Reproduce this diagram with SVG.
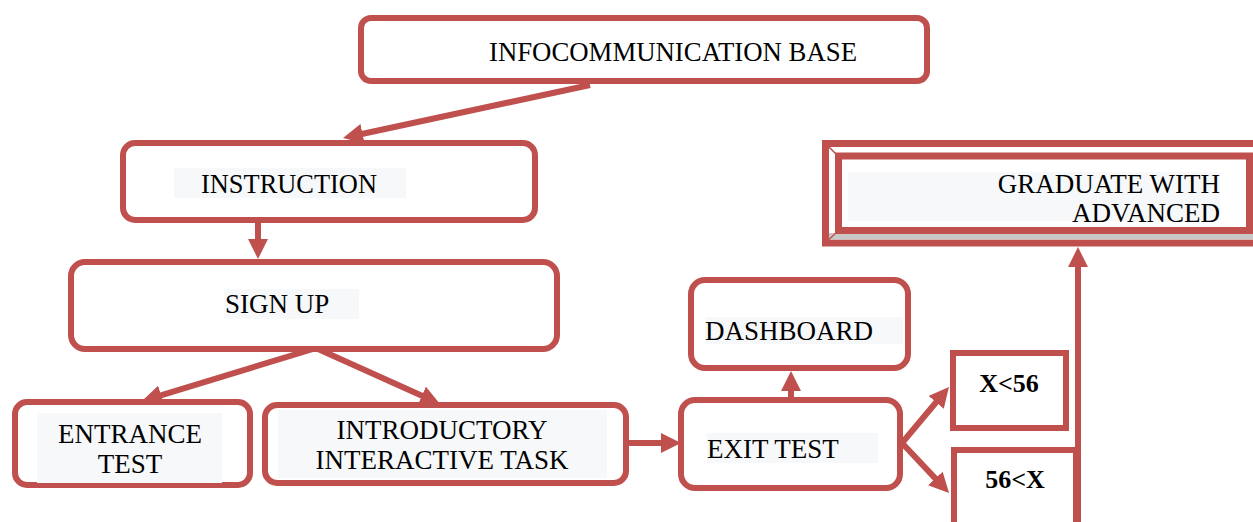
<svg xmlns="http://www.w3.org/2000/svg" width="1253" height="522" viewBox="0 0 1253 522">
<style>
.box{fill:#fff;stroke:#C0504D;stroke-width:6}
.sq{fill:#fff;stroke:#C0504D;stroke-width:6}
.bg{fill:#F7F8FA}
.t{font-family:"Liberation Serif","Times New Roman",serif;font-size:27px;fill:#000}
.b{font-weight:bold;font-size:26px}
.c{stroke:#C0504D;stroke-width:6;fill:none;marker-end:url(#ah)}
.bev{stroke:#C0504D;stroke-width:1.5;fill:none}
</style>
<defs>
<marker id="ah" viewBox="0 0 20 20" markerWidth="20" markerHeight="20" markerUnits="userSpaceOnUse" refX="2" refY="10" orient="auto">
<path d="M0,0 L20,10 L0,20 z" fill="#C0504D"/>
</marker>
</defs>
<rect width="1253" height="522" fill="#fff"/>
<g id="infocomm">
<rect class="box" x="361" y="18" width="566" height="63" rx="10"/>
<text class="t" x="489" y="61" textLength="368" lengthAdjust="spacingAndGlyphs">INFOCOMMUNICATION BASE</text>
</g>
<g id="instruction">
<rect class="box" x="123" y="143" width="412" height="77" rx="12"/>
<rect class="bg" x="174" y="168" width="232" height="30"/>
<text class="t" x="201" y="193" textLength="176" lengthAdjust="spacingAndGlyphs">INSTRUCTION</text>
</g>
<g id="signup">
<rect class="box" x="71" y="262" width="486" height="87" rx="14"/>
<rect class="bg" x="224" y="289" width="135" height="30"/>
<text class="t" x="225" y="313">SIGN UP</text>
</g>
<g id="entrance">
<rect class="box" x="15" y="402" width="235" height="83" rx="12"/>
<rect class="bg" x="37" y="413" width="185" height="70"/>
<text class="t" x="130" y="443" text-anchor="middle">ENTRANCE</text>
<text class="t" x="130" y="473" text-anchor="middle">TEST</text>
</g>
<g id="introductory">
<rect class="box" x="265" y="405" width="361" height="78" rx="12"/>
<rect class="bg" x="278" y="410" width="329" height="68"/>
<text class="t" x="442" y="439" text-anchor="middle">INTRODUCTORY</text>
<text class="t" x="442" y="469" text-anchor="middle">INTERACTIVE TASK</text>
</g>
<g id="exittest">
<rect class="box" x="681" y="400" width="219" height="88" rx="14"/>
<rect class="bg" x="707" y="433" width="171" height="30"/>
<text class="t" x="707" y="458">EXIT TEST</text>
</g>
<g id="dashboard">
<rect class="box" x="691" y="280" width="217" height="88" rx="14"/>
<rect class="bg" x="705" y="317" width="198" height="27"/>
<text class="t" x="705" y="340">DASHBOARD</text>
</g>
<g id="xlt56">
<rect class="sq" x="953" y="353" width="113" height="75"/>
<text class="t b" x="1009" y="392" text-anchor="middle">X&lt;56</text>
</g>
<g id="x56gt">
<rect class="sq" x="954" y="450" width="122" height="90"/>
<text class="t b" x="1015" y="488" text-anchor="middle">56&lt;X</text>
</g>
<g id="graduate">
<rect x="825.5" y="143.5" width="440" height="99.5" fill="#fff" stroke="#C0504D" stroke-width="7"/>
<rect x="829" y="233" width="430" height="6.5" fill="#C8C8C8"/>
<path class="bev" d="M829,147 L839,157 M829,239.5 L839,230"/>
<rect x="838.5" y="156" width="411" height="74.5" fill="#fff" stroke="#C0504D" stroke-width="7"/>
<rect class="bg" x="848" y="172" width="372" height="49"/>
<text class="t" x="1220" y="193" text-anchor="end">GRADUATE WITH</text>
<text class="t" x="1220" y="222" text-anchor="end">ADVANCED</text>
</g>
<g id="connectors">
<line class="c" x1="590" y1="85" x2="360.6" y2="134.2"/>
<line class="c" x1="258" y1="223" x2="258" y2="241"/>
<line class="c" x1="313" y1="349" x2="159.2" y2="395.8"/>
<line class="c" x1="318" y1="349" x2="423.6" y2="396.6"/>
<line class="c" x1="629" y1="443" x2="663" y2="443"/>
<line class="c" x1="791" y1="397" x2="791" y2="389"/>
<line class="c" x1="902" y1="443" x2="937.4" y2="400.8"/>
<line class="c" x1="902" y1="443" x2="936.7" y2="479.9"/>
<line class="c" x1="1078" y1="525" x2="1078" y2="265"/>
</g>
</svg>
